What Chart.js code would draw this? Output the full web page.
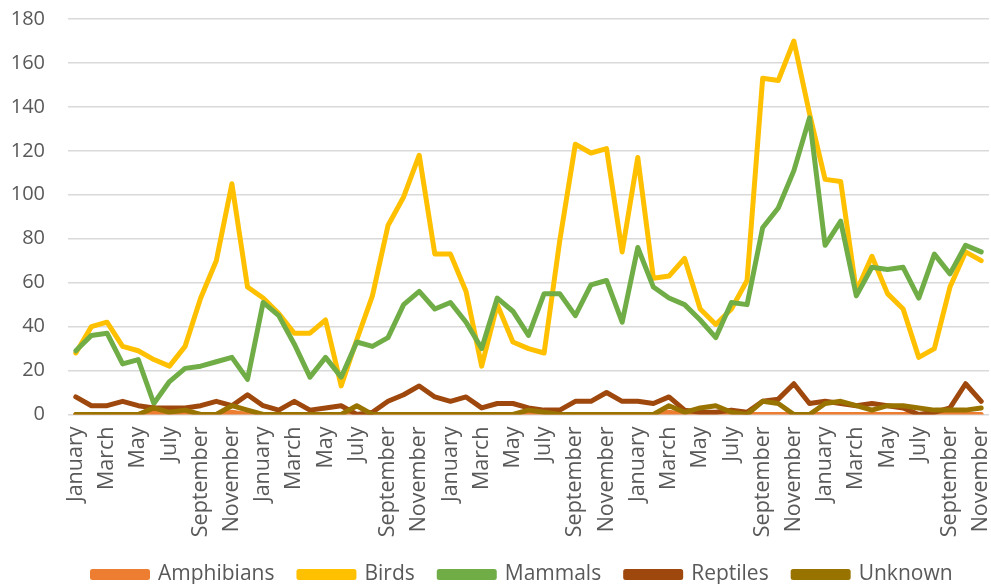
<!DOCTYPE html>
<html>
<head>
<meta charset="utf-8">
<script src="https://cdn.jsdelivr.net/npm/chart.js@4.4.1/dist/chart.umd.min.js"></script>
<style>
  html, body { margin: 0; padding: 0; background: #ffffff; }
  #wrap { width: 991px; height: 584px; position: relative; }
</style>
</head>
<body>
<div id="wrap"><canvas id="sightings"></canvas></div>
<script>
// Noms des mois, répétés sur cinq ans (janvier de l'an 1 à novembre de l'an 5)
const monthNames = ['January', 'February', 'March', 'April', 'May', 'June',
  'July', 'August', 'September', 'October', 'November', 'December'];
const months = [];
for (let y = 0; y < 5; y++) months.push(...monthNames);
months.length = 59;

// Séries mensuelles par groupe
const amphibians = [
  0, 0, 0, 0, 0, 1, 0, 0, 0, 0, 1, 0,
  0, 0, 0, 0, 0, 0, 0, 0, 0, 0, 0, 0,
  0, 0, 0, 0, 0, 0, 0, 0, 0, 0, 0, 0,
  0, 0, 1, 0, 0, 0, 0, 0, 0, 0, 0, 0,
  0, 0, 0, 0, 0, 0, 0, 0, 0, 0, 0
];
const birds = [
  28, 40, 42, 31, 29, 25, 22, 31, 53, 70, 105, 58,
  53, 46, 37, 37, 43, 13, 34, 54, 86, 99, 118, 73,
  73, 56, 22, 50, 33, 30, 28, 79, 123, 119, 121, 74,
  117, 62, 63, 71, 48, 41, 48, 61, 153, 152, 170, 137,
  107, 106, 56, 72, 55, 48, 26, 30, 58, 74, 70
];
const mammals = [
  29, 36, 37, 23, 25, 5, 15, 21, 22, 24, 26, 16,
  51, 45, 32, 17, 26, 17, 33, 31, 35, 50, 56, 48,
  51, 42, 30, 53, 47, 36, 55, 55, 45, 59, 61, 42,
  76, 58, 53, 50, 43, 35, 51, 50, 85, 94, 111, 135,
  77, 88, 54, 67, 66, 67, 53, 73, 64, 77, 74
];
const reptiles = [
  8, 4, 4, 6, 4, 3, 3, 3, 4, 6, 4, 9,
  4, 2, 6, 2, 3, 4, 0, 1, 6, 9, 13, 8,
  6, 8, 3, 5, 5, 3, 2, 2, 6, 6, 10, 6,
  6, 5, 8, 2, 1, 1, 2, 1, 6, 7, 14, 5,
  6, 5, 4, 5, 4, 3, 0, 1, 3, 14, 6
];
const unknown = [
  0, 0, 0, 0, 0, 3, 1, 2, 0, 0, 4, 2,
  0, 0, 0, 0, 0, 0, 4, 0, 0, 0, 0, 0,
  0, 0, 0, 0, 0, 2, 1, 0, 0, 0, 0, 0,
  0, 0, 4, 1, 3, 4, 1, 0, 6, 5, 0, 0,
  5, 6, 4, 2, 4, 4, 3, 2, 2, 2, 3
];

const yTicks = [0, 20, 40, 60, 80, 100, 120, 140, 160, 180];

const seriesNames = ['Amphibians', 'Birds', 'Mammals', 'Reptiles', 'Unknown'];
const seriesData = [amphibians, birds, mammals, reptiles, unknown];
const seriesColors = ['#ED7D31', '#FFC000', '#70AD47', '#9E480E', '#997300'];

const textColor = '#595959';
const family = "'Open Sans', sans-serif";

// la dernière série est dessinée au-dessus des autres
const datasets = seriesNames.map((name, i) => ({
  label: name,
  data: seriesData[i],
  borderColor: seriesColors[i],
  backgroundColor: seriesColors[i],
  borderWidth: 5,
  pointRadius: 0,
  tension: 0,
  borderJoinStyle: 'round',
  borderCapStyle: 'round',
  order: seriesNames.length - 1 - i
}));

const ctx = document.getElementById('sightings').getContext('2d');
new Chart(ctx, {
  type: 'line',
  data: { labels: months, datasets: datasets },
  options: {
    responsive: true,
    maintainAspectRatio: false,
    animation: false,
    layout: { padding: { left: 10, right: 2, top: 19, bottom: -11 } },
    plugins: {
      tooltip: { enabled: false },
      legend: {
        position: 'bottom',
        fullSize: false,   // légende alignée sur la zone de tracé
        align: 'start',
        labels: {
          boxWidth: 55,
          boxHeight: 6,
          padding: 24.5,
          color: textColor,
          font: { family: family, size: 21 },
          sort: (a, b) => a.datasetIndex - b.datasetIndex
        }
      }
    },
    scales: {
      x: {
        offset: true,
        grid: { display: false, drawTicks: false },
        border: { display: false },
        ticks: {
          autoSkip: false,
          minRotation: 90,
          maxRotation: 90,
          padding: 12,
          color: textColor,
          font: { family: family, size: 21.5 },
          callback: function (value, index) {
            return index % 2 === 0 ? this.getLabelForValue(value) : '';
          }
        },
        afterFit: (scale) => { scale.height = 125; scale.paddingLeft = 0; scale.paddingRight = 0; }
      },
      y: {
        min: 0,
        max: 180,
        afterBuildTicks: (scale) => { scale.ticks = yTicks.map(v => ({ value: v })); },
        afterFit: (scale) => { scale.width = 58; scale.paddingTop = 0; scale.paddingBottom = 0; },
        grid: { color: '#D9D9D9', lineWidth: 1.5, drawTicks: false },
        border: { display: false },
        ticks: { padding: 23, color: textColor, font: { family: family, size: 20 } }
      }
    }
  }
});
</script>
</body>
</html>
